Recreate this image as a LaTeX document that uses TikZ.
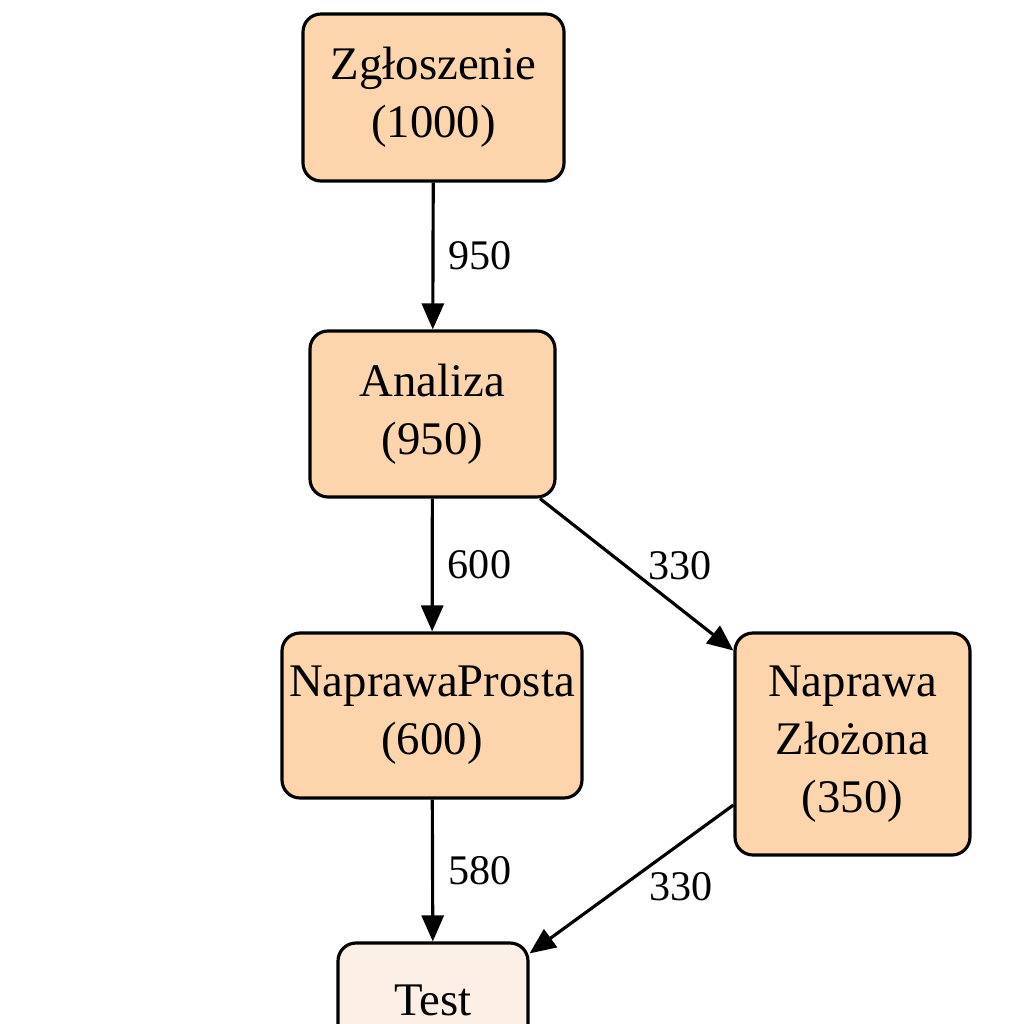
\documentclass[tikz,border=0pt]{standalone}
\usepackage{fontspec}
\setmainfont{Liberation Serif}
\usetikzlibrary{arrows.meta}
\definecolor{peach}{RGB}{253,213,172}
\definecolor{testfill}{RGB}{252,239,229}

\begin{document}
\begin{tikzpicture}[>={Triangle[length=0.26cm,width=0.22cm]},
	  box/.style={draw,line width=0.9pt,rounded corners=0.18cm,fill=peach,align=center,
	    font=\fontsize{13.3}{16.5}\selectfont,inner sep=0pt},
	  lab/.style={font=\fontsize{12}{14}\selectfont,inner sep=0pt},
	  flow/.style={->,line width=0.9pt}]
	  \useasboundingbox (0,0) rectangle (10.24,-10.24);
	  \node[box,minimum width=2.61cm,minimum height=1.67cm] (zgl) at (4.335,-0.975) {Zgłoszenie\\(1000)};
	  \node[box,minimum width=2.45cm,minimum height=1.66cm] (ana) at (4.325,-4.14) {Analiza\\(950)};
	  \node[box,minimum width=3.00cm,minimum height=1.65cm] (prosta) at (4.32,-7.155) {NaprawaProsta\\(600)};
	  \node[box,minimum width=2.35cm,minimum height=2.22cm] (zlo) at (8.525,-7.44) {Naprawa\\Złożona\\(350)};
	  \node[box,fill=testfill,minimum width=1.90cm,minimum height=1.14cm] (test) at (4.33,-10.0) {Test};
	  \draw[flow] (zgl) -- node[lab,anchor=west,xshift=0.14cm] {950} (ana);
	  \draw[flow] (ana) -- node[lab,anchor=west,xshift=0.14cm] {600} (prosta);
	  \draw[flow] (prosta) -- node[lab,anchor=west,xshift=0.14cm] {580} (test);
	  \draw[flow] (ana) -- node[lab,anchor=south west,xshift=0.1cm,yshift=-0.07cm] {330} (zlo);
	  \draw[flow] ([yshift=-0.61cm]zlo.west) -- node[lab,anchor=north west,xshift=0.165cm,yshift=0.08cm] {330} ([yshift=-0.12cm]test.north east);
	\end{tikzpicture}
\end{document}
